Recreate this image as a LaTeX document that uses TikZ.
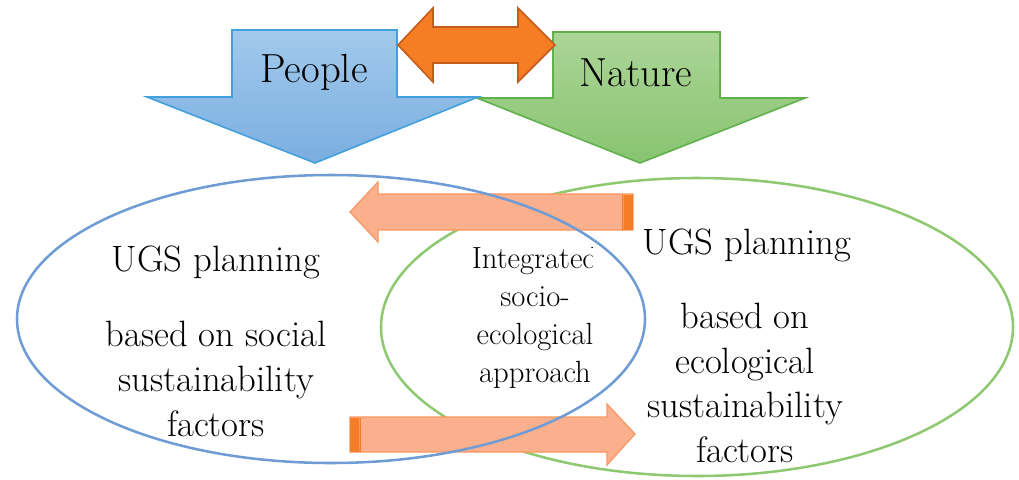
\documentclass[tikz,border=0pt]{standalone}
\definecolor{blueA}{RGB}{162,201,236}
\definecolor{blueB}{RGB}{122,174,224}
\definecolor{blueE}{RGB}{66,160,220}
\definecolor{greenA}{RGB}{172,213,152}
\definecolor{greenB}{RGB}{136,196,112}
\definecolor{greenE}{RGB}{96,176,76}
\definecolor{orangeF}{RGB}{245,125,35}
\definecolor{orangeE}{RGB}{196,92,28}
\definecolor{salmonF}{RGB}{250,176,140}
\definecolor{salmonE}{RGB}{250,150,95}
\definecolor{salmonD}{RGB}{245,125,40}
\definecolor{ellBlue}{RGB}{112,156,214}
\definecolor{ellGreen}{RGB}{142,200,112}
\tikzset{
  bigarrowblue/.style={draw=blueE, line width=1.2pt, top color=blueA, bottom color=blueB},
  bigarrowgreen/.style={draw=greenE, line width=1.2pt, top color=greenA, bottom color=greenB},
  dblarrow/.style={draw=orangeE, line width=1.2pt, fill=orangeF},
  flowarrow/.style={draw=salmonE, line width=0.9pt, fill=salmonF},
  tailstrip/.style={fill=salmonD, draw=none},
  ellblue/.style={draw=ellBlue, line width=1.9pt},
  ellgreen/.style={draw=ellGreen, line width=1.9pt},
  toplabel/.style={font=\fontsize{30.5}{34}\selectfont, inner sep=0pt},
  elltext/.style={font=\fontsize{27.5}{33.5}\selectfont, align=center, inner sep=0pt},
  midtext/.style={font=\fontsize{23}{28.5}\selectfont, align=center, inner sep=0pt}
}
\begin{document}
\begin{tikzpicture}[x=0.75pt,y=-0.75pt]
\useasboundingbox (0,0) rectangle (1019,479);
% top block arrows
\path[bigarrowgreen] (553,32) -- (720,32) -- (720,98) -- (805,98) -- (640,163) -- (477,98) -- (553,98) -- cycle;
\path[bigarrowblue] (232,30) -- (397,30) -- (397,97) -- (478,97) -- (315,163) -- (147,97) -- (232,97) -- cycle;
\node[toplabel] (people) at (314,72) {People};
\node[toplabel] (nature) at (636,73) {Nature};
% double arrow
\path[dblarrow] (398,45) -- (433,8) -- (433,27) -- (518,27) -- (518,8) -- (555,45) -- (518,82) -- (518,63) -- (433,63) -- (433,82) -- cycle;
% green ellipse
\draw[ellgreen] (697,327) ellipse [x radius=316, y radius=149];
% salmon flow arrows
\path[flowarrow] (633,194) -- (378,194) -- (378,182) -- (350,212) -- (378,242) -- (378,230) -- (633,230) -- cycle;
\path[tailstrip] (622,194.5) rectangle (633,229.5);
\draw[salmonE, line width=0.8pt] (623.5,195) -- (623.5,229);
\path[flowarrow] (350,417) -- (607,417) -- (607,404) -- (635,434) -- (607,465) -- (607,452) -- (350,452) -- cycle;
\path[tailstrip] (350,417.5) rectangle (361,451.5);
\draw[salmonE, line width=0.8pt] (359.5,418) -- (359.5,451);
% blue ellipse
\draw[ellblue] (331,319) ellipse [x radius=314, y radius=144];
% texts
\node[elltext] (lefttitle) at (216,262) {UGS planning};
\node[elltext] (leftbody) at (216,379) {based on social\\sustainability\\factors};
\node[elltext] (righttitle) at (747,245) {UGS planning};
\node[elltext] (rightbody) at (745,383) {based on\\ecological\\sustainability\\factors};
\begin{scope}
\clip (440,230) rectangle (592,400);
\node[midtext] (middle) at (535,318) {Integrated\\socio-\\ecological\\approach};
\end{scope}
\end{tikzpicture}
\end{document}
